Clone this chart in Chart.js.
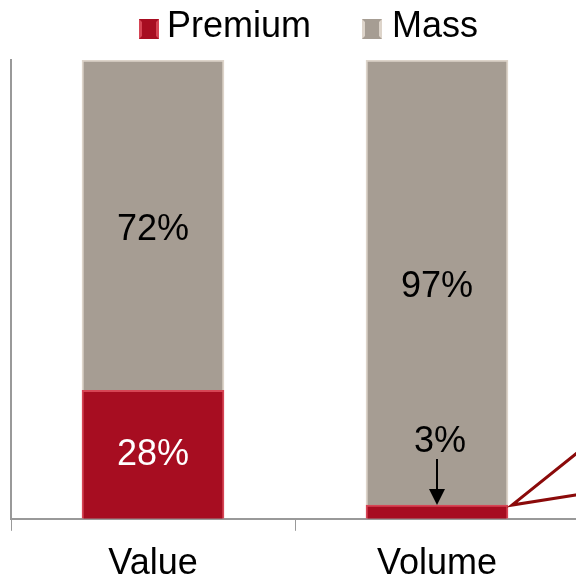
<!DOCTYPE html>
<html>
<head>
<meta charset="utf-8">
<script src="https://cdn.jsdelivr.net/npm/chart.js@4"></script>
<style>
  html, body { margin: 0; padding: 0; background: #fff; overflow: hidden; }
  .wrap { position: relative; width: 620px; height: 598px; }
  canvas { display: block; }
  #legend {
    position: absolute; left: 139px; top: 7px;
    display: flex; align-items: center;
    font: 36px 'Liberation Sans', Arial, sans-serif; line-height: 36px; color: #000;
  }
  #legend .item { display: flex; align-items: center; margin-right: 51px; }
  #legend .box { width: 20px; height: 20px; box-sizing: border-box; margin: 8px 8px 0 0; }
  #legend .item + .item .box { margin-right: 10px; }
</style>
</head>
<body>
<div class="wrap">
  <div id="legend"></div>
  <canvas id="shareChart" width="620" height="598"></canvas>
</div>
<script>
const ctx = document.getElementById("shareChart").getContext("2d");

const CATEGORIES = ["Value", "Volume"];
const PREMIUM = [28, 3];
const MASS = [72, 97];

const COLORS = {
  red: "#a70d21",
  redEdge: "#d64555",
  grey: "#a69d93",
  greyEdge: "#ddd4ca",
  callout: "#8b0a0a",
};

const FONT = "'Liberation Sans', Arial, sans-serif";

// html legend built from the datasets
const htmlLegend = {
  id: "htmlLegend",
  afterUpdate(chart) {
    const box = document.getElementById("legend");
    box.innerHTML = "";
    chart.data.datasets.forEach((ds) => {
      const item = document.createElement("div");
      item.className = "item";
      const sw = document.createElement("span");
      sw.className = "box";
      sw.style.background = ds.backgroundColor;
      sw.style.border = "3px solid " + ds.borderColor;
      sw.style.borderTopColor = ds.backgroundColor;
      sw.style.borderBottomColor = ds.backgroundColor;
      const txt = document.createElement("span");
      txt.textContent = ds.label;
      item.appendChild(sw);
      item.appendChild(txt);
      box.appendChild(item);
    });
  },
};

// labels inside the bars, plus the "3%" arrow and the callout lines
const barLabels = {
  id: "barLabels",
  afterDatasetsDraw(chart) {
    const c = chart.ctx;
    c.save();
    c.font = "36px " + FONT;
    c.textAlign = "center";
    c.textBaseline = "middle";
    chart.data.datasets.forEach((ds, i) => {
      const meta = chart.getDatasetMeta(i);
      meta.data.forEach((el, j) => {
        const v = ds.data[j];
        if (v >= 10) {
          c.fillStyle = i === 0 ? "#ffffff" : "#000000";
          c.fillText(v + "%", el.x, (el.y + el.base) / 2 + (i === 0 ? 1 : 5));
        } else {
          c.fillStyle = "#000000";
          c.fillText(v + "%", el.x + 3, el.y - 63);
          // arrow
          c.strokeStyle = "#000";
          c.lineWidth = 2;
          c.beginPath();
          c.moveTo(el.x, el.y - 46);
          c.lineTo(el.x, el.y - 14);
          c.stroke();
          c.beginPath();
          c.moveTo(el.x - 8, el.y - 16);
          c.lineTo(el.x + 8, el.y - 16);
          c.lineTo(el.x, el.y);
          c.closePath();
          c.fill();
          // callout lines
          const x0 = el.x + el.width / 2 + 4;
          c.strokeStyle = COLORS.callout;
          c.lineWidth = 3;
          c.beginPath();
          c.moveTo(x0 + 70, el.y - 56);
          c.lineTo(x0, el.y);
          c.lineTo(x0 + 70, el.y - 11);
          c.stroke();
        }
      });
    });
    c.restore();
  },
};

const data = {
  labels: CATEGORIES,
  datasets: [
    {
      label: "Premium",
      data: PREMIUM,
      backgroundColor: COLORS.red,
      borderColor: COLORS.redEdge,
      borderWidth: 2,
    },
    {
      label: "Mass",
      data: MASS,
      backgroundColor: COLORS.grey,
      borderColor: COLORS.greyEdge,
      borderWidth: 2,
    },
  ],
};

const config = {
  type: "bar",
  data: data,
  options: {
    responsive: false,
    animation: false,
    devicePixelRatio: 1,
    barThickness: 142,
    layout: {
      padding: { left: 11, right: 13, top: 60, bottom: 0 },
    },
    plugins: {
      legend: { display: false },
      tooltip: { enabled: false },
    },
    scales: {
      x: {
        stacked: true,
        grid: {
          drawOnChartArea: false,
          drawTicks: true,
          tickLength: 12,
          color: "#999",
        },
        border: { color: "#999", width: 2 },
        ticks: {
          font: { family: FONT, size: 36 },
          color: "#000",
          padding: 12,
        },
      },
      y: {
        stacked: true,
        min: 0,
        max: 100,
        grid: { display: false, drawTicks: false },
        border: { color: "#999", width: 2 },
        ticks: { display: false },
      },
      // empty spacer right of the plot
      yRight: {
        type: "linear",
        position: "right",
        grid: { display: false, drawTicks: false },
        border: { display: false },
        ticks: { display: false },
        afterFit(scale) { scale.width = 28; },
      },
    },
  },
  plugins: [htmlLegend, barLabels],
};

const shareChart = new Chart(ctx, config);
</script>
</body>
</html>
